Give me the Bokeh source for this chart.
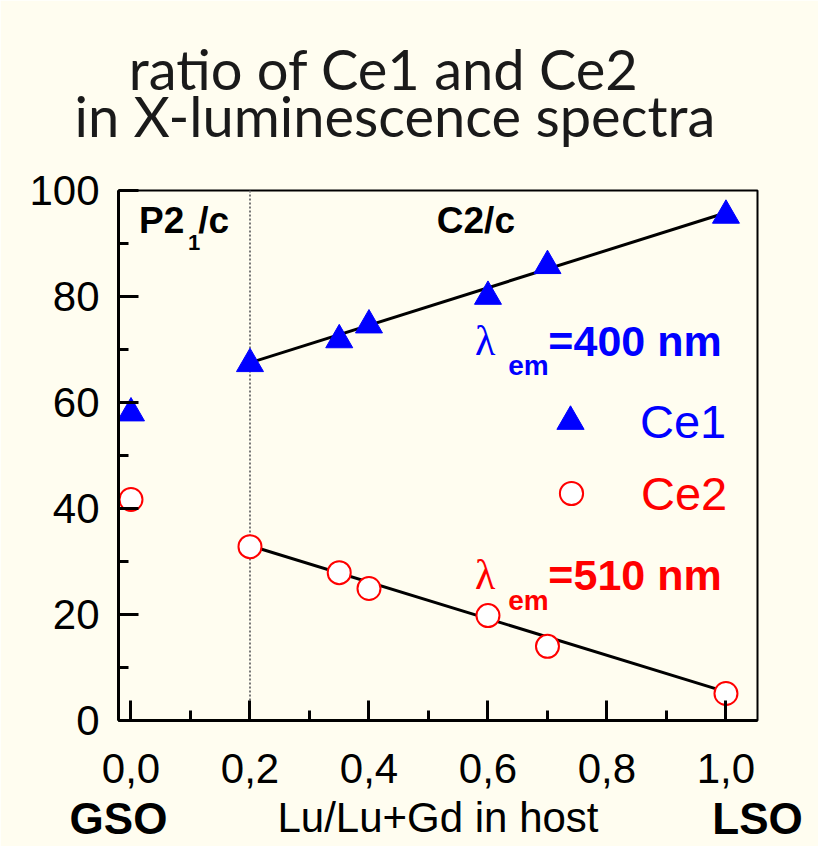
from bokeh.plotting import figure
from bokeh.models import (Range1d, FixedTicker, CustomJSTickFormatter, Span, Label,
                          Legend, LegendItem, LinearAxis)
from bokeh.embed import file_html
from bokeh.resources import INLINE

# Lu fraction of the rare-earth site, Lu/(Lu+Gd)
lu_fraction = [0.0, 0.2, 0.35, 0.4, 0.6, 0.7, 1.0]
# share of each Ce centre in the X-ray luminescence spectrum, %
ce1_percent = [58.0, 67.3, 71.8, 74.6, 80.0, 85.8, 95.3]
ce2_percent = [41.7, 32.8, 27.9, 24.9, 19.8, 14.0, 5.1]

# linear trends across the C2/c range
fit_x = [0.2, 1.0]
ce1_fit = [67.5, 95.8]
ce2_fit = [33.0, 5.4]

x_major = [0.0, 0.2, 0.4, 0.6, 0.8, 1.0]
x_minor = [0.1, 0.3, 0.5, 0.7, 0.9]
y_major = [0, 20, 40, 60, 80, 100]
y_minor = [10, 30, 50, 70, 90]
phase_boundary = 0.2
end_members = ["GSO", "LSO"]

BG = "#FFFDF0"
SANS = "Liberation Sans"

p = figure(width=818, height=846, output_backend="svg", toolbar_location=None,
           x_range=Range1d(-0.021, 1.053), y_range=Range1d(0, 100),
           min_border_left=118, min_border_right=61,
           min_border_top=190, min_border_bottom=126,
           background_fill_color=BG, border_fill_color=BG)
p.grid.visible = False
p.outline_line_color = "black"
p.outline_line_width = 2
p.outline_line_alpha = 1

for ax in (p.xaxis[0], p.yaxis[0]):
    ax.axis_line_width = 3
    ax.major_tick_line_width = 3
    ax.minor_tick_line_width = 3
    ax.major_tick_in = 20
    ax.major_tick_out = 0
    ax.minor_tick_in = 10
    ax.minor_tick_out = 0
    ax.major_label_text_font = SANS
    ax.major_label_text_font_size = "42px"
    ax.major_label_text_color = "black"

p.xaxis.ticker = FixedTicker(ticks=x_major, minor_ticks=x_minor)
p.yaxis.ticker = FixedTicker(ticks=y_major, minor_ticks=y_minor)
p.xaxis.formatter = CustomJSTickFormatter(code="return tick.toFixed(1).replace('.', ',');")
p.xaxis.major_label_standoff = 33
p.yaxis.major_label_standoff = 19
p.xaxis.axis_label = "Lu/Lu+Gd in host"
p.xaxis.axis_label_text_font = SANS
p.xaxis.axis_label_text_font_style = "normal"
p.xaxis.axis_label_text_font_size = "42px"
p.xaxis.axis_label_text_color = "black"
p.xaxis.axis_label_standoff = 8

# end members of the solid solution, at the two edges of the frame
p.extra_x_ranges = {"frame_edges": Range1d(0, 1)}
ends_axis = LinearAxis(x_range_name="frame_edges",
                       ticker=FixedTicker(ticks=[0, 1], minor_ticks=[]),
                       formatter=CustomJSTickFormatter(args=dict(names=end_members),
                                                       code="return names[Math.round(tick)];"),
                       axis_line_alpha=0, major_tick_in=0, major_tick_out=0,
                       minor_tick_in=0, minor_tick_out=0,
                       major_label_text_font=SANS, major_label_text_font_style="bold",
                       major_label_text_font_size="44px", major_label_text_color="black",
                       major_label_standoff=-50)
p.add_layout(ends_axis, "below")

# P21/c | C2/c phase boundary
p.add_layout(Span(location=phase_boundary, dimension="height", line_color="#777777",
                  line_dash="2 2", line_width=2, level="underlay"))

p.line(fit_x, ce1_fit, line_color="black", line_width=3)
p.line(fit_x, ce2_fit, line_color="black", line_width=3)

r_ce1 = p.scatter(lu_fraction, ce1_percent, marker="triangle", size=27,
                  fill_color="#0000FF", line_color="#0000FF")
r_ce2 = p.scatter(lu_fraction, ce2_percent, marker="circle", size=23,
                  fill_color="white", line_color="#FF0000", line_width=2)

leg1 = Legend(items=[LegendItem(label="Ce1", renderers=[r_ce1])], location=(418, 265),
              glyph_width=68, glyph_height=68, label_standoff=36,
              label_text_font=SANS, label_text_font_size="47px", label_text_color="#0000FF",
              padding=0, margin=0, spacing=0, border_line_alpha=0, background_fill_alpha=0)
leg2 = Legend(items=[LegendItem(label="Ce2", renderers=[r_ce2])], location=(424, 198),
              glyph_width=58, glyph_height=58, label_standoff=41,
              label_text_font=SANS, label_text_font_size="47px", label_text_color="#FF0000",
              padding=0, margin=0, spacing=0, border_line_alpha=0, background_fill_alpha=0)
p.add_layout(leg1)
p.add_layout(leg2)


def text(x, y, s, size, color="black", style="bold", font=SANS, align="left", place=None):
    lab = Label(x=x, y=y, text=s, text_font=font, text_font_size=size,
                text_font_style=style, text_color=color, text_align=align,
                text_baseline="middle")
    if place is None:
        p.add_layout(lab)
    else:
        p.add_layout(lab, place)


# space groups
text(0.0135, 94.4, "P2", "37px")
text(0.096, 90.1, "1", "22px")
text(0.113, 94.4, "/c", "37px")
text(0.514, 94.25, "C2/c", "37px")

# emission wavelengths
for col, y_main, y_sub, s in (("#0000FF", 71.6, 67.0, "=400 nm"),
                              ("#FF0000", 27.4, 22.6, "=510 nm")):
    text(0.578, y_main, "\u03bb", "42px", col, "normal", "Liberation Serif")
    text(0.634, y_sub, "em", "28px", col)
    text(0.7015, y_main, s, "43px", col)

# heading, kept outside the data frame
text(0.425, 123.0, "ratio of Ce1 and Ce2", "56px", "#1a1a1a", "normal", "Lato", "center", "above")
text(0.4435, 114.1, "in X-luminescence spectra", "56px", "#1a1a1a", "normal", "Lato", "center", "above")

open("out.html", "w").write(file_html(p, INLINE))
